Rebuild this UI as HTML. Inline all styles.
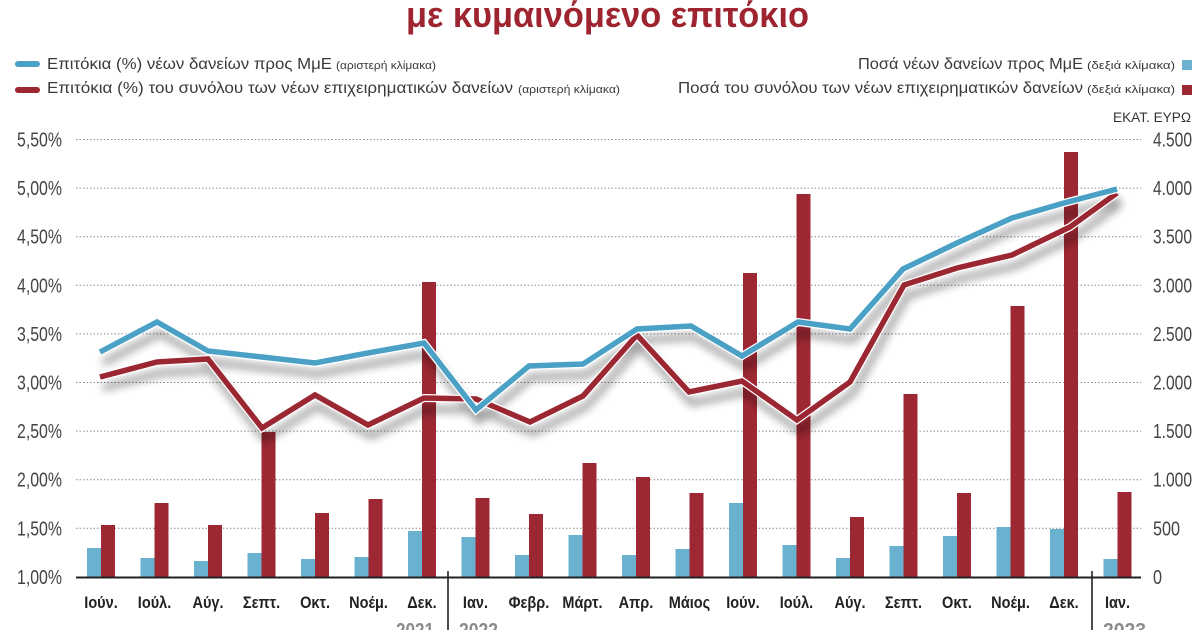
<!DOCTYPE html>
<html><head><meta charset="utf-8">
<style>
html,body{margin:0;padding:0;background:#fff;width:1200px;height:630px;overflow:hidden}
svg{display:block}
text{font-family:"Liberation Sans","DejaVu Sans",sans-serif}
</style></head>
<body>
<svg width="1200" height="630" viewBox="0 0 1200 630" xmlns="http://www.w3.org/2000/svg">
<defs>
<filter id="sh" x="-5%" y="-30%" width="110%" height="170%">
<feGaussianBlur stdDeviation="4.5"/>
</filter>
</defs>
<rect width="1200" height="630" fill="#fff"/>

<!-- title -->
<text x="406" y="27" font-size="36" font-weight="bold" fill="#9e2530" textLength="403" lengthAdjust="spacingAndGlyphs">με κυμαινόμενο επιτόκιο</text>

<!-- left legend -->
<rect x="15" y="61" width="25" height="6" rx="3" fill="#4ba0c6"/>
<rect x="15" y="87" width="25" height="6" rx="3" fill="#9b2733"/>
<text x="47" y="69" font-size="16" fill="#3a3a3a" textLength="285" lengthAdjust="spacingAndGlyphs">Επιτόκια (%) νέων δανείων προς ΜμΕ</text>
<text x="336" y="69" font-size="11" fill="#3a3a3a" textLength="100" lengthAdjust="spacingAndGlyphs">(αριστερή κλίμακα)</text>
<text x="47" y="93" font-size="16" fill="#3a3a3a" textLength="466" lengthAdjust="spacingAndGlyphs">Επιτόκια (%) του συνόλου των νέων επιχειρηματικών δανείων</text>
<text x="518" y="93" font-size="11" fill="#3a3a3a" textLength="102" lengthAdjust="spacingAndGlyphs">(αριστερή κλίμακα)</text>

<!-- right legend -->
<text x="858" y="69" font-size="16" fill="#3a3a3a" textLength="225" lengthAdjust="spacingAndGlyphs">Ποσά νέων δανείων προς ΜμΕ</text>
<text x="1087" y="69" font-size="11" fill="#3a3a3a" textLength="88" lengthAdjust="spacingAndGlyphs">(δεξιά κλίμακα)</text>
<rect x="1182" y="60" width="10" height="10" fill="#69b1cf"/>
<text x="678" y="93" font-size="16" fill="#3a3a3a" textLength="405" lengthAdjust="spacingAndGlyphs">Ποσά του συνόλου των νέων επιχειρηματικών δανείων</text>
<text x="1087" y="93" font-size="11" fill="#3a3a3a" textLength="88" lengthAdjust="spacingAndGlyphs">(δεξιά κλίμακα)</text>
<rect x="1182" y="85" width="10" height="10" fill="#9d2833"/>
<text x="1113" y="122" font-size="13.5" fill="#333" textLength="78" lengthAdjust="spacingAndGlyphs">ΕΚΑΤ. ΕΥΡΩ</text>

<!-- gridlines -->
<g stroke="#8a8a8a" stroke-width="1" stroke-dasharray="1.5,2">
<line x1="76" y1="139.5" x2="1141" y2="139.5"/>
<line x1="76" y1="188.1" x2="1141" y2="188.1"/>
<line x1="76" y1="236.7" x2="1141" y2="236.7"/>
<line x1="76" y1="285.3" x2="1141" y2="285.3"/>
<line x1="76" y1="333.9" x2="1141" y2="333.9"/>
<line x1="76" y1="382.5" x2="1141" y2="382.5"/>
<line x1="76" y1="431.1" x2="1141" y2="431.1"/>
<line x1="76" y1="479.7" x2="1141" y2="479.7"/>
<line x1="76" y1="528.3" x2="1141" y2="528.3"/>
</g>

<!-- left axis labels -->
<g font-size="20" fill="#444" text-anchor="end">
<text x="62" y="146.5" textLength="45" lengthAdjust="spacingAndGlyphs">5,50%</text>
<text x="62" y="195.1" textLength="45" lengthAdjust="spacingAndGlyphs">5,00%</text>
<text x="62" y="243.7" textLength="45" lengthAdjust="spacingAndGlyphs">4,50%</text>
<text x="62" y="292.3" textLength="45" lengthAdjust="spacingAndGlyphs">4,00%</text>
<text x="62" y="340.9" textLength="45" lengthAdjust="spacingAndGlyphs">3,50%</text>
<text x="62" y="389.5" textLength="45" lengthAdjust="spacingAndGlyphs">3,00%</text>
<text x="62" y="438.1" textLength="45" lengthAdjust="spacingAndGlyphs">2,50%</text>
<text x="62" y="486.7" textLength="45" lengthAdjust="spacingAndGlyphs">2,00%</text>
<text x="62" y="535.3" textLength="45" lengthAdjust="spacingAndGlyphs">1,50%</text>
<text x="62" y="584" textLength="45" lengthAdjust="spacingAndGlyphs">1,00%</text>
</g>

<!-- right axis labels -->
<g font-size="20" fill="#444">
<text x="1153" y="146.5" textLength="39" lengthAdjust="spacingAndGlyphs">4.500</text>
<text x="1153" y="195.1" textLength="39" lengthAdjust="spacingAndGlyphs">4.000</text>
<text x="1153" y="243.7" textLength="39" lengthAdjust="spacingAndGlyphs">3.500</text>
<text x="1153" y="292.3" textLength="39" lengthAdjust="spacingAndGlyphs">3.000</text>
<text x="1153" y="340.9" textLength="39" lengthAdjust="spacingAndGlyphs">2.500</text>
<text x="1153" y="389.5" textLength="39" lengthAdjust="spacingAndGlyphs">2.000</text>
<text x="1153" y="438.1" textLength="39" lengthAdjust="spacingAndGlyphs">1.500</text>
<text x="1153" y="486.7" textLength="39" lengthAdjust="spacingAndGlyphs">1.000</text>
<text x="1153" y="535.3" textLength="27" lengthAdjust="spacingAndGlyphs">500</text>
<text x="1153" y="584" textLength="9" lengthAdjust="spacingAndGlyphs">0</text>
</g>

<!-- bars -->
<g fill="#69b1cf">
<rect x="87" y="548" width="14" height="29"/>
<rect x="140.5" y="558" width="14" height="19"/>
<rect x="194" y="561" width="14" height="16"/>
<rect x="247.5" y="553" width="14" height="24"/>
<rect x="301" y="559" width="14" height="18"/>
<rect x="354.5" y="557" width="14" height="20"/>
<rect x="408" y="531" width="14" height="46"/>
<rect x="461.5" y="537" width="14" height="40"/>
<rect x="515" y="555" width="14" height="22"/>
<rect x="568.5" y="535" width="14" height="42"/>
<rect x="622" y="555" width="14" height="22"/>
<rect x="675.5" y="549" width="14" height="28"/>
<rect x="729" y="503" width="14" height="74"/>
<rect x="782.5" y="545" width="14" height="32"/>
<rect x="836" y="558" width="14" height="19"/>
<rect x="889.5" y="546" width="14" height="31"/>
<rect x="943" y="536" width="14" height="41"/>
<rect x="996.5" y="527" width="14" height="50"/>
<rect x="1050" y="529" width="14" height="48"/>
<rect x="1103.5" y="559" width="14" height="18"/>
</g>
<g fill="#9d2833">
<rect x="101" y="525" width="14" height="52"/>
<rect x="154.5" y="503" width="14" height="74"/>
<rect x="208" y="525" width="14" height="52"/>
<rect x="261.5" y="432" width="14" height="145"/>
<rect x="315" y="513" width="14" height="64"/>
<rect x="368.5" y="499" width="14" height="78"/>
<rect x="422" y="282" width="14" height="295"/>
<rect x="475.5" y="498" width="14" height="79"/>
<rect x="529" y="514" width="14" height="63"/>
<rect x="582.5" y="463" width="14" height="114"/>
<rect x="636" y="477" width="14" height="100"/>
<rect x="689.5" y="493" width="14" height="84"/>
<rect x="743" y="273" width="14" height="304"/>
<rect x="796.5" y="194" width="14" height="383"/>
<rect x="850" y="517" width="14" height="60"/>
<rect x="903.5" y="394" width="14" height="183"/>
<rect x="957" y="493" width="14" height="84"/>
<rect x="1010.5" y="306" width="14" height="271"/>
<rect x="1064" y="152" width="14" height="425"/>
<rect x="1117.5" y="492" width="14" height="85"/>
</g>

<!-- line shadows -->
<g filter="url(#sh)" opacity="0.42" transform="translate(3,11)" fill="none" stroke="#000" stroke-width="6">
<polyline points="100,352 157,322 208,351 262,357 315,363 368,353 424,343 476,410 529,366 583,364 637,329 691,326 742,356 798,322 850,329 903,269 957,243 1012,218 1064,203 1117,189"/>
<polyline points="100,377 157,362 208,359 262,428 315,395 368,425 424,398 476,399 530,422 583,396 637,335 689,392 742,381 797,420 850,382 904,285 957,268 1012,255 1070,227 1117,193"/>
</g>

<!-- red line -->
<polyline fill="none" stroke="#fff" stroke-width="8" stroke-linejoin="miter" points="100,377 157,362 208,359 262,428 315,395 368,425 424,398 476,399 530,422 583,396 637,335 689,392 742,381 797,420 850,382 904,285 957,268 1012,255 1070,227 1117,193"/>
<polyline fill="none" stroke="#9b2733" stroke-width="5.5" stroke-linejoin="miter" points="100,377 157,362 208,359 262,428 315,395 368,425 424,398 476,399 530,422 583,396 637,335 689,392 742,381 797,420 850,382 904,285 957,268 1012,255 1070,227 1117,193"/>
<!-- blue line -->
<polyline fill="none" stroke="#fff" stroke-width="8" stroke-linejoin="miter" points="100,352 157,322 208,351 262,357 315,363 368,353 424,343 476,410 529,366 583,364 637,329 691,326 742,356 798,322 850,329 903,269 957,243 1012,218 1064,203 1117,189"/>
<polyline fill="none" stroke="#4ba0c6" stroke-width="5.5" stroke-linejoin="miter" points="100,352 157,322 208,351 262,357 315,363 368,353 424,343 476,410 529,366 583,364 637,329 691,326 742,356 798,322 850,329 903,269 957,243 1012,218 1064,203 1117,189"/>

<!-- baseline -->
<line x1="76" y1="577.5" x2="1141" y2="577.5" stroke="#222" stroke-width="2"/>
<line x1="448" y1="571" x2="448" y2="630" stroke="#222" stroke-width="1.6"/>
<line x1="1092" y1="571" x2="1092" y2="630" stroke="#222" stroke-width="1.6"/>

<!-- month labels -->
<g transform="scale(0.88,1)" font-size="16.5" font-weight="bold" fill="#222" text-anchor="middle">
<text x="114.8" y="608">Ιούν.</text>
<text x="175.6" y="608">Ιούλ.</text>
<text x="236.4" y="608">Αύγ.</text>
<text x="297.2" y="608">Σεπτ.</text>
<text x="358.0" y="608">Οκτ.</text>
<text x="418.8" y="608">Νοέμ.</text>
<text x="479.5" y="608">Δεκ.</text>
<text x="540.3" y="608">Ιαν.</text>
<text x="601.1" y="608">Φεβρ.</text>
<text x="661.9" y="608">Μάρτ.</text>
<text x="722.7" y="608">Απρ.</text>
<text x="783.5" y="608">Μάιος</text>
<text x="844.3" y="608">Ιούν.</text>
<text x="905.1" y="608">Ιούλ.</text>
<text x="965.9" y="608">Αύγ.</text>
<text x="1026.7" y="608">Σεπτ.</text>
<text x="1087.5" y="608">Οκτ.</text>
<text x="1148.3" y="608">Νοέμ.</text>
<text x="1209.1" y="608">Δεκ.</text>
<text x="1269.9" y="608">Ιαν.</text>
</g>

<!-- years -->
<g font-size="20" font-weight="bold" fill="#8c8c8c">
<text x="396" y="637" textLength="38" lengthAdjust="spacingAndGlyphs">2021</text>
<text x="459" y="637" textLength="39" lengthAdjust="spacingAndGlyphs">2022</text>
<text x="1103" y="637" textLength="43" lengthAdjust="spacingAndGlyphs">2023</text>
</g>
</svg>
</body></html>
